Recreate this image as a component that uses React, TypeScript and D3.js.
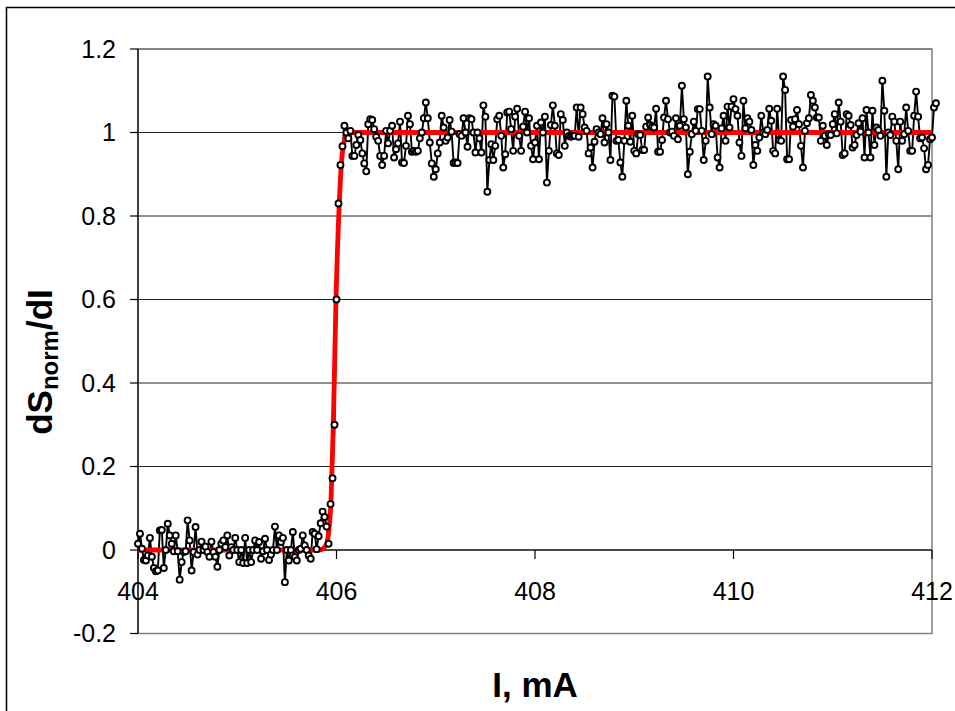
import React from 'react';
import * as d3 from 'd3';

const currentStart = 404;
const currentStep = 0.02;

const baselineSignal = [
  0.015, 0.039, 0.003, -0.024, -0.025, -0.013, 0.029, -0.016, -0.043, -0.051,
  -0.049, 0.047, 0.048, -0.043, 0.0, 0.063, 0.035, 0.015, -0.003, 0.035,
  -0.003, -0.071, -0.029, -0.005, -0.003, 0.071, 0.023, -0.049, -0.005, 0.055,
  -0.011, 0.0, 0.02, 0.0, 0.008, -0.005, -0.016, 0.02, -0.005, -0.016,
  -0.04, 0.0, 0.015, 0.023, 0.007, 0.035, -0.013, 0.007, 0.0, 0.029,
  0.0, -0.029, 0.0, -0.031, 0.029, -0.031, 0.0, -0.029, 0.0, 0.023,
  0.0, 0.019, -0.021, -0.003, 0.027, 0.0, -0.024, -0.011, 0.0, 0.056,
  0.0, 0.035, 0.019, 0.029, -0.077, 0.0, -0.025, 0.0, 0.043, -0.017,
  -0.025, 0.0, 0.003, 0.035, 0.011, 0.0, -0.013, -0.021, 0.043, 0.039,
];

const riseSignal = [0.002, 0.033, 0.064, 0.092, 0.079, 0.056, 0.015, 0.11, 0.172, 0.3, 0.6, 0.83];

const plateauSignal = [
  0.922, 0.967, 1.016, 1.0, 0.986, 1.004, 0.944, 0.944, 0.97, 0.994,
  0.982, 0.95, 0.926, 0.907, 1.02, 1.032, 1.03, 1.008, 0.99, 0.98,
  0.944, 0.922, 0.944, 1.004, 0.974, 1.004, 1.016, 0.94, 0.96, 0.974,
  1.026, 0.928, 0.927, 0.968, 1.04, 1.02, 0.954, 0.956, 0.954, 0.956,
  0.986, 1.0, 1.034, 1.072, 1.034, 0.976, 0.926, 0.894, 0.912, 0.95,
  0.976, 1.04, 1.012, 0.98, 0.988, 1.03, 1.002, 0.927, 0.928, 0.927,
  0.996, 0.992, 1.034, 1.0, 0.966, 1.034, 1.032, 1.0, 0.952, 1.0,
  0.986, 0.952, 1.065, 1.038, 0.858, 0.934, 0.972, 0.934, 0.968, 1.032,
  1.04, 0.992, 0.916, 0.948, 1.048, 1.05, 1.008, 0.956, 1.038, 1.057,
  0.992, 0.956, 1.014, 1.05, 1.0, 1.034, 0.968, 0.936, 0.976, 1.016,
  0.936, 1.024, 1.0, 1.038, 0.88, 0.956, 1.018, 1.065, 1.016, 0.95,
  0.946, 1.044, 1.03, 0.968, 1.0, 0.992, 0.99, 0.992, 0.992, 1.06,
  0.99, 1.06, 1.044, 1.012, 1.004, 0.95, 0.964, 0.916, 0.978, 1.008,
  1.0, 0.996, 1.034, 0.976, 1.02, 1.0, 0.934, 1.088, 1.086, 0.98,
  0.982, 0.928, 0.894, 0.98, 1.076, 1.016, 0.978, 1.04, 0.956, 0.95,
  0.996, 0.994, 0.958, 0.958, 1.014, 1.036, 1.018, 1.014, 1.012, 1.057,
  0.954, 0.954, 0.982, 1.036, 1.076, 1.032, 1.0, 1.002, 0.992, 1.034,
  0.984, 1.016, 1.112, 1.032, 1.012, 0.9, 0.954, 0.996, 1.026, 1.004,
  1.056, 1.056, 1.004, 0.934, 0.98, 1.134, 1.06, 0.996, 1.02, 1.016,
  0.94, 0.916, 1.01, 1.04, 0.98, 1.062, 1.012, 1.062, 1.08, 1.056,
  1.04, 0.976, 0.944, 1.076, 1.01, 1.034, 1.026, 1.006, 0.922, 0.97,
  0.956, 0.988, 1.04, 1.0, 0.996, 1.006, 1.057, 1.028, 0.956, 0.95,
  1.057, 0.982, 0.98, 1.134, 1.102, 0.936, 0.936, 1.03, 1.014, 1.032,
  1.054, 1.02, 0.968, 0.916, 1.004, 1.022, 1.034, 1.09, 1.076, 1.06,
  1.036, 1.036, 0.98, 1.016, 0.992, 0.97, 0.996, 0.994, 1.02, 1.044,
  0.998, 1.072, 1.026, 0.946, 0.95, 1.044, 1.04, 1.018, 0.964, 0.97,
  0.994, 1.022, 1.002, 1.034, 0.94, 1.054, 1.0, 0.94, 1.052, 0.97,
  1.012, 1.006, 0.992, 1.124, 1.052, 0.894, 1.0, 0.994, 1.038, 1.026,
  0.98, 0.912, 1.026, 0.98, 0.996, 1.06, 1.004, 0.956, 0.956, 1.04,
  1.098, 1.038, 0.986, 0.988, 0.962, 0.912, 0.922, 0.984, 0.988, 1.06,
  1.07,
];

const fitCurrent = [404, 405.83, 405.89, 405.92, 405.945, 405.968, 405.995, 406.028, 406.048, 406.07, 406.106, 406.156, 412];
const fitSignal = [0, 0, 0.01, 0.04, 0.12, 0.3, 0.6, 0.83, 0.92, 0.97, 0.995, 1.0, 1.0];

const xTicks = [404, 406, 408, 410, 412];
const yTicks = [-0.2, 0, 0.2, 0.4, 0.6, 0.8, 1.0, 1.2];

const W = 955;
const H = 711;
const plot = { left: 138, right: 932, top: 49, bottom: 633.5 };
const FONT = 'Arial, "Liberation Sans", Helvetica, sans-serif';

export default function App() {
  const x = d3.scaleLinear().domain([404, 412]).range([plot.left, plot.right]);
  const y = d3.scaleLinear().domain([-0.2, 1.2]).range([plot.bottom, plot.top]);

  const signal = [...baselineSignal, ...riseSignal, ...plateauSignal];
  const data: [number, number][] = signal.map((v, i) => [currentStart + currentStep * i, v]);
  const fit: [number, number][] = fitCurrent.map((c, i) => [c, fitSignal[i]]);

  const dataLine = d3
    .line<[number, number]>()
    .x((d) => x(d[0]))
    .y((d) => y(d[1]));
  const fitLine = d3
    .line<[number, number]>()
    .x((d) => x(d[0]))
    .y((d) => y(d[1]))
    .curve(d3.curveMonotoneX);

  const y0 = y(0);
  const fmt = (v: number) => String(Math.round(v * 10) / 10);

  return (
    <svg
      width={W}
      height={H}
      style={{ position: 'absolute', left: 0, top: 0, background: '#fff' }}
      fontFamily={FONT}
    >
      <rect x={0} y={0} width={W} height={H} fill="#fff" />
      <rect x={6.5} y={7.5} width={W + 20} height={H + 20} fill="none" stroke="#000" strokeWidth={1.5} />

      {yTicks.map((t) => (
        <line key={'g' + t} x1={plot.left} x2={plot.right} y1={y(t)} y2={y(t)} stroke="#222" strokeWidth={1} />
      ))}
      <rect
        x={plot.left}
        y={plot.top}
        width={plot.right - plot.left}
        height={plot.bottom - plot.top}
        fill="none"
        stroke="#808080"
        strokeWidth={1.5}
      />

      <line x1={plot.left} x2={plot.left} y1={plot.top} y2={plot.bottom} stroke="#000" strokeWidth={1.2} />
      {yTicks.map((t) => (
        <g key={'yt' + t}>
          <line x1={plot.left - 8} x2={plot.left} y1={y(t)} y2={y(t)} stroke="#000" strokeWidth={1.2} />
          <text x={116} y={y(t)} dy="0.35em" textAnchor="end" fontSize={25} fill="#000">
            {fmt(t)}
          </text>
        </g>
      ))}

      <line x1={plot.left} x2={plot.right} y1={y0} y2={y0} stroke="#000" strokeWidth={1.2} />
      {xTicks.map((t) => (
        <g key={'xt' + t}>
          <line x1={x(t)} x2={x(t)} y1={y0} y2={y0 + 9} stroke="#000" strokeWidth={1.2} />
          <text x={x(t)} y={600} textAnchor="middle" fontSize={25} fill="#000">
            {t}
          </text>
        </g>
      ))}

      <path d={dataLine(data) || ''} fill="none" stroke="#000" strokeWidth={1.9} />
      <path d={fitLine(fit) || ''} fill="none" stroke="#ff0000" strokeWidth={4.8} strokeLinejoin="round" />
      {data.map((d, i) => (
        <circle key={'m' + i} cx={x(d[0])} cy={y(d[1])} r={3} fill="#fff" stroke="#000" strokeWidth={1.9} />
      ))}

      <text x={535} y={697} textAnchor="middle" fontSize={35} fontWeight="bold" fill="#000">
        I, mA
      </text>
      <text
        transform="translate(52,362) rotate(-90)"
        textAnchor="middle"
        fontSize={35}
        fontWeight="bold"
        fill="#000"
      >
        dS
        <tspan fontSize={24} dy={6}>
          norm
        </tspan>
        <tspan dy={-6}>/dI</tspan>
      </text>
    </svg>
  );
}
